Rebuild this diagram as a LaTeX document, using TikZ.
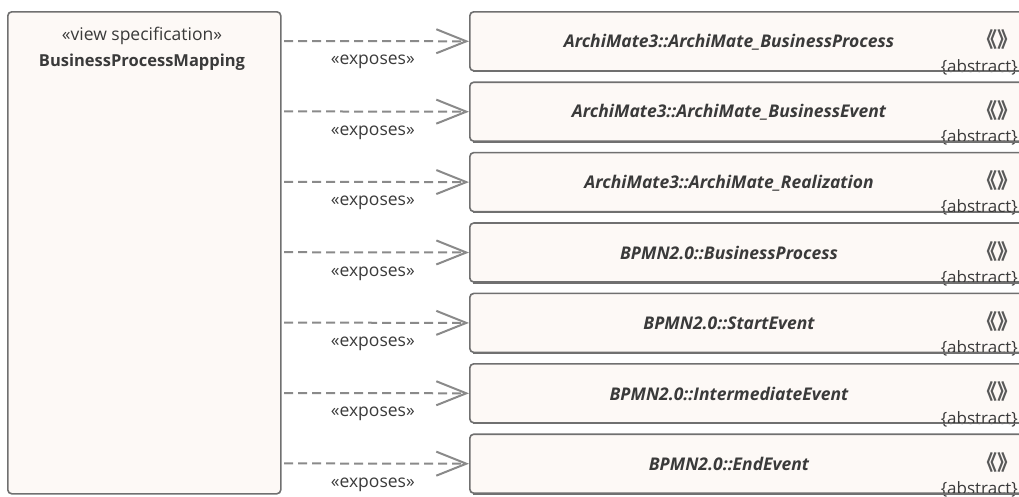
\documentclass[tikz,border=0pt]{standalone}
\usepackage{fontspec}
\setmainfont{Open Sans}
\newfontfamily\cjk{Noto Sans CJK SC}
\usetikzlibrary{arrows.meta}
\definecolor{boxfill}{HTML}{FDF9F6}
\definecolor{boxline}{HTML}{707070}
\definecolor{edgeline}{HTML}{8A8A8A}
\definecolor{txt}{HTML}{3A3A3A}
\tikzset{
  umlbox/.style={draw=boxline, line width=1.6pt, fill=boxfill, rounded corners=4pt, inner sep=0pt, anchor=north west},
  exposes/.style={draw=edgeline, line width=2pt, dash pattern=on 9pt off 5pt, -{Straight Barb[length=30pt,width=24pt,line width=2pt]}},
  titletxt/.style={font=\fontsize{17.5}{20}\selectfont\bfseries\itshape, text=txt, inner sep=0pt},
  stereo/.style={font=\fontsize{17.5}{20}\selectfont, text=txt, inner sep=0pt},
  small/.style={font=\fontsize{17}{20}\selectfont, text=txt, inner sep=0pt},
}
\begin{document}
\begin{tikzpicture}[x=1pt,y=-1pt]
\useasboundingbox (0,0) rectangle (1019,496);
\clip (0,0) rectangle (1019,496);
\node[umlbox, minimum width=273pt, minimum height=482pt] (vs) at (7,11) {};
\node[stereo] (vsst) at (142,36) {«view specification»};
\node[stereo, font=\fontsize{16.5}{20}\selectfont\bfseries] (vsname) at (142,62) {BusinessProcessMapping};
\foreach \i/\name in {1/ArchiMate3::ArchiMate\_BusinessProcess,
                      2/ArchiMate3::ArchiMate\_BusinessEvent,
                      3/ArchiMate3::ArchiMate\_Realization,
                      4/BPMN2.0::BusinessProcess,
                      5/BPMN2.0::StartEvent,
                      6/BPMN2.0::IntermediateEvent,
                      7/BPMN2.0::EndEvent}{
  \pgfmathsetmacro{\ytop}{11+70.4*(\i-1)}
  \node[umlbox, minimum width=590pt, minimum height=59pt] (c\i) at (469,\ytop) {};
  \node[titletxt] (t\i) at (729,\ytop+31) {\name};
  \node[small, anchor=east, text=black!65, font=\cjk\fontsize{21}{24}\selectfont\bfseries] (s\i) at (1019,\ytop+29) {《》};
  \node[small, anchor=east] (a\i) at (1018,\ytop+56) {\{abstract\}};
  \draw[boxline, line width=1.6pt] (c\i.south west) ++(4,0) -- (c\i.south east);
  \coordinate (e\i) at (284,\ytop+30);
  \draw[exposes] (e\i) -- (c\i.west) node[small, font=\fontsize{17.5}{20}\selectfont, pos=0.48, yshift=-21pt] (l\i) {«exposes»};
}
\end{tikzpicture}
\end{document}
